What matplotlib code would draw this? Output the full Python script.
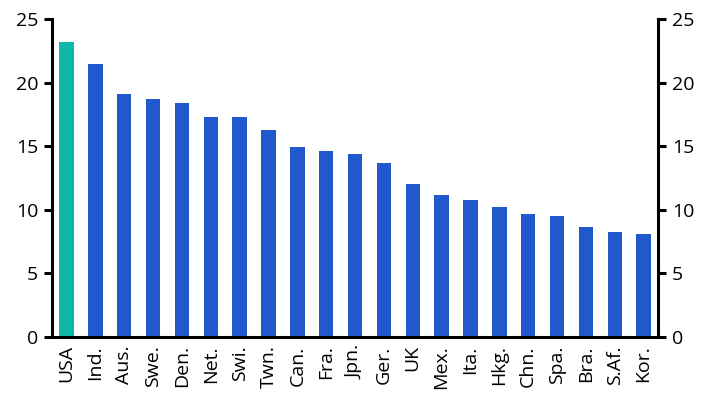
import matplotlib
matplotlib.use('Agg')
import matplotlib.pyplot as plt

countries = ['USA', 'Ind.', 'Aus.', 'Swe.', 'Den.', 'Net.', 'Swi.', 'Twn.', 'Can.', 'Fra.',
             'Jpn.', 'Ger.', 'UK', 'Mex.', 'Ita.', 'Hkg.', 'Chn.', 'Spa.', 'Bra.', 'S.Af.', 'Kor.']
values = [23.2, 21.5, 19.1, 18.7, 18.4, 17.3, 17.3, 16.3, 14.95, 14.65,
          14.35, 13.65, 12.0, 11.15, 10.75, 10.2, 9.65, 9.5, 8.65, 8.25, 8.1]
highlight = 'USA'

plt.rcParams['font.family'] = ['Open Sans', 'DejaVu Sans']

fig = plt.figure(figsize=(7.15, 4.13), dpi=100)
ax = fig.add_axes([52 / 715, 76 / 413, 606 / 715, 318 / 413])

colors = ['#0fb7aa' if c == highlight else '#2159cc' for c in countries]
x = range(len(countries))
ax.bar(x, values, width=0.5, color=colors)

ax.set_xlim(-0.5, len(countries) - 0.5)
ax.set_ylim(0, 25)
ax.set_yticks([0, 5, 10, 15, 20, 25])
ax.set_xticks(list(x))
ax.set_xticklabels(countries, rotation=90, fontsize=14)

for s in ['left', 'right', 'bottom']:
    ax.spines[s].set_linewidth(2.2)
ax.spines['top'].set_visible(False)

ax.tick_params(axis='y', which='both', left=True, right=True, labelleft=True, labelright=True,
               direction='out', length=6, width=2.2, labelsize=14, pad=4)
ax.tick_params(axis='x', length=0, pad=6)

fig.savefig('out.png', dpi=100)
